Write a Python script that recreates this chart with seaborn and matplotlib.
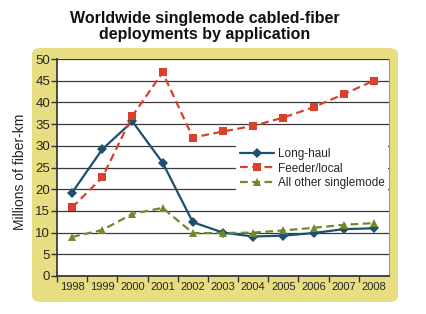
import pandas as pd
import matplotlib.pyplot as plt
import seaborn as sns
from matplotlib.patches import FancyBboxPatch

# Values (millions of fiber-km)
years = [1998, 1999, 2000, 2001, 2002, 2003, 2004, 2005, 2006, 2007, 2008]
long_haul = [19.2, 29.2, 35.6, 26.1, 12.4, 10.0, 9.1, 9.3, 9.9, 10.8, 11.0]
feeder_local = [15.8, 22.7, 36.9, 46.9, 31.9, 33.3, 34.6, 36.5, 38.9, 41.9, 45.0]
other_sm = [9.0, 10.6, 14.3, 15.7, 9.9, 9.9, 10.0, 10.5, 11.1, 11.8, 12.2]

series_names = ["Long-haul", "Feeder/local", "All other singlemode"]
colors = ["#1d4f6e", "#d8412b", "#6f8a2a"]

df = pd.DataFrame({
    "Year": years * 3,
    "Value": long_haul + feeder_local + other_sm,
    "Series": [s for s in series_names for _ in years],
})

sns.set_theme(style="white")
plt.rcParams["font.family"] = ["Liberation Sans", "DejaVu Sans"]

fig = plt.figure(figsize=(4.26, 3.14), dpi=100)
fig.patch.set_facecolor("white")

# yellow rounded panel behind the plot
panel = FancyBboxPatch((32 / 426, 12 / 314), 366 / 426, 254 / 314,
                       boxstyle="round,pad=0,rounding_size=0.02",
                       transform=fig.transFigure, facecolor="#e6de80",
                       edgecolor="none", zorder=-5)
fig.patches.append(panel)

ax = fig.add_axes([57 / 426, 38 / 314, 332 / 426, 217 / 314])
ax.set_zorder(1)
ax.set_facecolor("white")

sns.lineplot(
    data=df, x="Year", y="Value", hue="Series", style="Series",
    palette=dict(zip(series_names, colors)),
    markers={"Long-haul": "D", "Feeder/local": "s", "All other singlemode": "^"},
    dashes={"Long-haul": "", "Feeder/local": (3.5, 2), "All other singlemode": (3.5, 2)},
    lw=1.6, markersize=5.5, markeredgewidth=0, ax=ax,
)

ax.set_ylim(0, 50)
ax.set_xlim(1997.5, 2008.5)
ax.set_xticks(years)
ax.set_xticklabels([str(y) for y in years], fontsize=8)
ax.set_xticks([y + 0.5 for y in years[:-1]] + [1997.5], minor=True)
ax.tick_params(axis="x", which="major", length=0, pad=4)
ax.tick_params(axis="x", which="minor", length=4, color="#333333", width=1, bottom=True)
ax.set_yticks(range(0, 51, 5))
ax.tick_params(axis="y", labelsize=9.5, length=4, color="#333333", width=1, left=True, pad=1)
ax.yaxis.grid(True, color="#3a3a3a", lw=0.9)
ax.set_axisbelow(True)

ax.spines["top"].set_visible(False)
ax.spines["left"].set_color("#333333")
ax.spines["bottom"].set_color("#333333")
ax.spines["right"].set_color("#999999")
ax.spines["right"].set_linewidth(0.8)

ax.set_xlabel("")
ax.set_ylabel("Millions of fiber-km", fontsize=10)
ax.yaxis.set_label_coords(-0.09, 0.48)

leg = ax.legend(loc="upper left", bbox_to_anchor=(0.54, 0.605), frameon=True,
                facecolor="white", edgecolor="none", framealpha=1, fancybox=False,
                fontsize=8.5, handlelength=2.9, labelspacing=0.2, handletextpad=0.3,
                borderpad=0.3, borderaxespad=0)
leg.set_title(None)

fig.text(0.48, 0.965, "Worldwide singlemode cabled-fiber\ndeployments by application",
         ha="center", va="top", fontsize=11.5, fontweight="bold", linespacing=1.05,
         color="#111111")

fig.savefig("out.png", dpi=100)
